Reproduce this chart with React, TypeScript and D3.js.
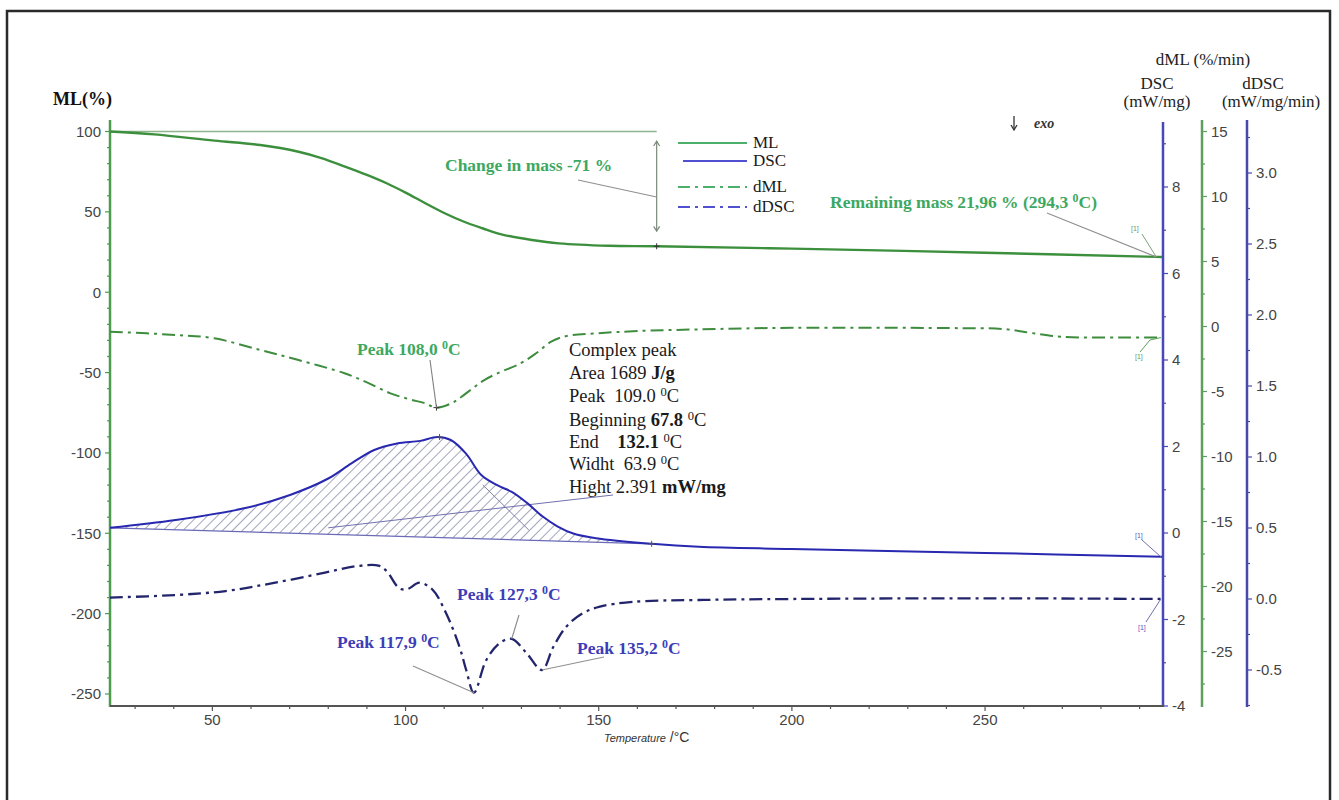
import React from "react";
import * as d3 from "d3";

// ML (%) vs temperature
const mlTemp = [23.5, 35, 50.5, 62.4, 72.3, 78, 85.2, 90, 95.1, 100, 105, 110, 115, 119.9, 124.8, 132.7, 139.7, 152.6, 165, 200, 250, 294.3, 295.8];
const mlValue = [100, 98.2, 94.3, 91.6, 87.4, 83.6, 77.4, 73, 67.8, 62, 55.5, 49.3, 44, 39.8, 36, 32.5, 30.4, 28.9, 28.6, 27.1, 24.6, 21.96, 21.9];

// dML (%/min)
const dmlTemp = [23.5, 40.5, 50.5, 62.4, 72.3, 84.2, 90, 96.1, 101, 105, 108, 111.9, 114.5, 117.9, 120.5, 123.8, 129.8, 133.8, 137.7, 141.7, 149.6, 160, 176.2, 200, 240, 255, 262, 270, 285, 295.8];
const dmlValue = [-0.4, -0.65, -0.91, -1.81, -2.58, -3.6, -4.3, -5.14, -5.6, -5.9, -6.24, -5.9, -5.4, -4.63, -4.1, -3.6, -2.83, -2.06, -1.17, -0.73, -0.52, -0.35, -0.22, -0.1, -0.12, -0.2, -0.5, -0.8, -0.85, -0.85];

// DSC (mW/mg)
const dscTemp = [23.5, 40.5, 58.2, 70.1, 80, 86, 91.9, 97.8, 103.8, 108.2, 111.7, 115.6, 119.6, 123.6, 127.5, 131.5, 135.5, 139.4, 143.4, 149.3, 163.7, 175.9, 200, 250, 295.8];
const dscValue = [0.12, 0.3, 0.57, 0.88, 1.26, 1.61, 1.92, 2.07, 2.13, 2.22, 2.15, 1.84, 1.34, 1.11, 0.95, 0.69, 0.38, 0.15, -0.01, -0.12, -0.25, -0.32, -0.37, -0.46, -0.55];

// dDSC (mW/mg/min)
const ddscTemp = [23.5, 40.5, 53.4, 65.3, 78.2, 87, 93, 95, 98.4, 100.5, 103.6, 107, 110.5, 114, 115.7, 117.7, 120.9, 124.4, 127.5, 131.3, 135.3, 138.2, 141.6, 145.9, 150.3, 158.8, 176, 200, 250, 295.8];
const ddscValue = [0.01, 0.028, 0.056, 0.11, 0.18, 0.23, 0.235, 0.2, 0.075, 0.07, 0.115, 0.065, -0.1, -0.34, -0.5, -0.66, -0.43, -0.31, -0.28, -0.38, -0.5, -0.34, -0.195, -0.1, -0.054, -0.02, -0.007, 0.0, 0.005, 0.0];

// integration baseline of the complex peak (temperature, DSC)
const baseTemp = [23.5, 163.7];
const baseValue = [0.12, -0.25];

const xLabels = [50, 100, 150, 200, 250];

const SERIF = "'Liberation Serif', 'Times New Roman', serif";
const SANS = "'Liberation Sans', Arial, sans-serif";
const GREEN_TXT = "#3da861";
const BLUE_TXT = "#3d3db8";
const TICK_TXT = "#444";

const zip = (a: number[], b: number[]) => a.map((t, i) => [t, b[i]] as [number, number]);

const Deg = ({ dy = 7 }: { dy?: number }) => (
  <>
    <tspan dy={-dy} fontSize="0.68em">0</tspan>
    <tspan dy={dy}>C</tspan>
  </>
);

type AxisProps = {
  scale: d3.ScaleLinear<number, number>;
  x: number;
  y0: number;
  y1: number;
  ticks: number[];
  major: (v: number) => boolean;
  fmt: (v: number) => string;
  side: "left" | "right";
  color: string;
};

const VAxis = ({ scale, x, y0, y1, ticks, major, fmt, side, color }: AxisProps) => {
  const s = side === "left" ? -1 : 1;
  return (
    <g>
      <line x1={x} x2={x} y1={y0} y2={y1} stroke={color} strokeWidth={2.5} />
      {ticks.map((v, i) => {
        const y = scale(v);
        const m = major(v);
        return (
          <g key={i}>
            <line x1={x} x2={x + s * (m ? 5 : 3)} y1={y} y2={y} stroke={color} strokeWidth={1.2} />
            {m && (
              <text
                x={x + s * 9}
                y={y}
                dy="0.36em"
                textAnchor={side === "left" ? "end" : "start"}
                fontFamily={SANS}
                fontSize={15}
                fill={TICK_TXT}
              >
                {fmt(v)}
              </text>
            )}
          </g>
        );
      })}
    </g>
  );
};

const Cross = ({ cx, cy, color }: { cx: number; cy: number; color: string }) => (
  <g stroke={color} strokeWidth={1}>
    <line x1={cx - 3} x2={cx + 3} y1={cy} y2={cy} />
    <line x1={cx} x2={cx} y1={cy - 3} y2={cy + 3} />
  </g>
);

export default function App() {
  const x = d3.scaleLinear().domain([23.5, 295.8]).range([110, 1162]);
  const yML = d3.scaleLinear().domain([100, -250]).range([131.5, 694]);
  const yDSC = d3.scaleLinear().domain([0, -4]).range([533, 706]);
  const ydML = d3.scaleLinear().domain([0, -25]).range([326.5, 651.5]);
  const ydDSC = d3.scaleLinear().domain([0, -0.5]).range([599, 670]);

  const mk = (ys: d3.ScaleLinear<number, number>) =>
    d3
      .line<[number, number]>()
      .x((d) => x(d[0]))
      .y((d) => ys(d[1]))
      .curve(d3.curveCatmullRom.alpha(0.5));

  const mlPts = zip(mlTemp, mlValue);
  const dmlPts = zip(dmlTemp, dmlValue);
  const dscPts = zip(dscTemp, dscValue);
  const ddscPts = zip(ddscTemp, ddscValue);

  const baseAt = d3.scaleLinear().domain(baseTemp).range(baseValue);
  const hatchPts = dscPts.filter((d) => d[0] <= baseTemp[1]);
  const area = d3
    .area<[number, number]>()
    .x((d) => x(d[0]))
    .y0((d) => yDSC(baseAt(d[0])))
    .y1((d) => yDSC(d[1]))
    .curve(d3.curveCatmullRom.alpha(0.5));

  const xTicks = d3.range(30, 300, 10);

  const legend = [
    { name: "ML", color: "#4caf6a", dash: "none", y: 143, x0: 678 },
    { name: "DSC", color: "#5050d0", dash: "none", y: 161, x0: 683 },
    { name: "dML", color: "#4caf6a", dash: "12 5 3 5", y: 187, x0: 678 },
    { name: "dDSC", color: "#5050d0", dash: "12 5 3 5", y: 207, x0: 678 },
  ];

  const peakLabels = [
    { t: "117,9", x: 337, y: 648, lx1: 413, ly1: 666, lx2: x(117.7), ly2: ydDSC(-0.66) },
    { t: "127,3", x: 457, y: 600, lx1: 519, ly1: 615, lx2: x(127.5), ly2: ydDSC(-0.28) },
    { t: "135,2", x: 577, y: 654, lx1: 604, ly1: 657, lx2: x(135.3), ly2: ydDSC(-0.5) },
  ];

  return (
    <svg
      width={1339}
      height={800}
      style={{ position: "absolute", left: 0, top: 0, background: "#fff" }}
    >
      <defs>
        <pattern id="hatch" width={7} height={7} patternUnits="userSpaceOnUse" patternTransform="rotate(45)">
          <line x1={0} y1={0} x2={0} y2={7} stroke="#4a4e78" strokeWidth={1} />
        </pattern>
      </defs>
      <rect x={0} y={0} width={1339} height={800} fill="#fff" />
      <rect x={7} y={11} width={1323} height={800} fill="none" stroke="#2a2a2a" strokeWidth={2.5} />

      {/* axes */}
      <VAxis
        scale={yML}
        x={110}
        y0={120}
        y1={707}
        ticks={d3.range(-250, 101, 10)}
        major={(v) => v % 50 === 0}
        fmt={(v) => String(v)}
        side="left"
        color="#4e9a4e"
      />
      <VAxis
        scale={yDSC}
        x={1163}
        y0={122}
        y1={707}
        ticks={d3.range(-4, 10, 1)}
        major={(v) => v % 2 === 0}
        fmt={(v) => String(v)}
        side="right"
        color="#4848b8"
      />
      <VAxis
        scale={ydML}
        x={1202}
        y0={120}
        y1={707}
        ticks={d3.range(-11, 7).map((i) => i * 2.5)}
        major={(v) => v % 5 === 0}
        fmt={(v) => String(v)}
        side="right"
        color="#5e9e5e"
      />
      <VAxis
        scale={ydDSC}
        x={1247}
        y0={120}
        y1={707}
        ticks={d3.range(-3, 14).map((i) => i * 0.25)}
        major={(v) => Math.abs(v * 2 - Math.round(v * 2)) < 1e-9}
        fmt={(v) => v.toFixed(1)}
        side="right"
        color="#4848a8"
      />

      {/* x axis */}
      <line x1={110} x2={1163} y1={706} y2={706} stroke="#555" strokeWidth={2} />
      {xTicks.map((t) => (
        <line key={t} x1={x(t)} x2={x(t)} y1={706} y2={t % 50 === 0 ? 711 : 709} stroke="#555" strokeWidth={1.2} />
      ))}
      {xLabels.map((t) => (
        <text key={t} x={x(t)} y={725} textAnchor="middle" fontFamily={SANS} fontSize={15} fill={TICK_TXT}>
          {t}
        </text>
      ))}
      <text x={604} y={742} fontFamily={SANS} fill="#333">
        <tspan fontSize={11} fontStyle="italic">Temperature</tspan>
        <tspan fontSize={14}> /°C</tspan>
      </text>

      {/* axis titles */}
      <text x={53} y={105} fontFamily={SERIF} fontWeight="bold" fontSize={18} fill="#111">ML(%)</text>
      <text x={1203} y={65} textAnchor="middle" fontFamily={SERIF} fontSize={17} fill="#222">dML (%/min)</text>
      <text x={1157} y={89} textAnchor="middle" fontFamily={SERIF} fontSize={17} fill="#222">DSC</text>
      <text x={1157} y={107} textAnchor="middle" fontFamily={SERIF} fontSize={17} fill="#222">(mW/mg)</text>
      <text x={1263} y={89} textAnchor="middle" fontFamily={SERIF} fontSize={17} fill="#222">dDSC</text>
      <text x={1271} y={107} textAnchor="middle" fontFamily={SERIF} fontSize={17} fill="#222">(mW/mg/min)</text>

      {/* exo marker */}
      <line x1={1014} y1={116} x2={1014} y2={129} stroke="#333" strokeWidth={1.3} />
      <path d="M1011,125 L1014,130 L1017,125" fill="none" stroke="#333" strokeWidth={1.3} />
      <text x={1034} y={128} fontFamily={SERIF} fontSize={14} fontStyle="italic" fontWeight="bold" fill="#333">exo</text>

      {/* ML reference line and change-in-mass arrow */}
      <line x1={x(23.5)} x2={x(165)} y1={yML(100)} y2={yML(100)} stroke="#8db58d" strokeWidth={1.5} />
      <line x1={x(165)} x2={x(165)} y1={yML(94)} y2={yML(38)} stroke="#7a8a7a" strokeWidth={1.2} />
      <path d={`M${x(165) - 3},${yML(91)} L${x(165)},${yML(94)} L${x(165) + 3},${yML(91)}`} fill="none" stroke="#7a8a7a" strokeWidth={1.2} />
      <path d={`M${x(165) - 3},${yML(41)} L${x(165)},${yML(38)} L${x(165) + 3},${yML(41)}`} fill="none" stroke="#7a8a7a" strokeWidth={1.2} />
      <line x1={578} y1={180} x2={x(165)} y2={197} stroke="#909090" strokeWidth={1.2} />
      <text x={445} y={171} fontFamily={SERIF} fontWeight="bold" fontSize={17.5} fill={GREEN_TXT}>Change in mass -71 %</text>

      {/* hatched peak area */}
      <path d={area(hatchPts) || ""} fill="url(#hatch)" stroke="none" />
      <line
        x1={x(baseTemp[0])}
        y1={yDSC(baseValue[0])}
        x2={x(baseTemp[1])}
        y2={yDSC(baseValue[1])}
        stroke="#6a6ab8"
        strokeWidth={1.2}
      />
      <line x1={x(120)} y1={yDSC(1.11)} x2={x(131.9)} y2={yDSC(0.07)} stroke="#8080a8" strokeWidth={1} />
      <line x1={613} y1={495} x2={x(80)} y2={yDSC(0.12)} stroke="#7070b0" strokeWidth={1} />

      {/* curves */}
      <path d={mk(yML)(mlPts) || ""} fill="none" stroke="#3c8f3c" strokeWidth={2.4} />
      <path d={mk(ydML)(dmlPts) || ""} fill="none" stroke="#3e8c3e" strokeWidth={2} strokeDasharray="13 5 3 5" />
      <path d={mk(yDSC)(dscPts) || ""} fill="none" stroke="#2828b0" strokeWidth={2} />
      <path d={mk(ydDSC)(ddscPts) || ""} fill="none" stroke="#23256c" strokeWidth={2.3} strokeDasharray="13 5 3 5" />

      <Cross cx={x(165)} cy={yML(28.6)} color="#333" />
      <Cross cx={x(108)} cy={ydML(-6.24)} color="#333" />
      <Cross cx={x(108.8)} cy={yDSC(2.22)} color="#555" />
      <Cross cx={x(163.7)} cy={yDSC(-0.25)} color="#555" />

      {/* remaining mass */}
      <text x={830} y={208} fontFamily={SERIF} fontWeight="bold" fontSize={17.5} fill={GREEN_TXT}>
        Remaining mass 21,96 % (294,3 <Deg dy={6} />)
      </text>
      <line x1={1047} y1={213} x2={x(294.3)} y2={yML(21.96)} stroke="#909090" strokeWidth={1.2} />
      <text x={1131} y={231} fontFamily={SANS} fontSize={7} fill="#6a9a6a">[1]</text>
      <line x1={1142} y1={234} x2={x(294.3)} y2={yML(21.96)} stroke="#7aa07a" strokeWidth={1} />

      {/* end markers on other curves */}
      <text x={1135} y={359} fontFamily={SANS} fontSize={7} fill="#5aa05a">[1]</text>
      <path d={`M1140,352 L1150,340 L${x(295.5)},${ydML(-0.85)}`} fill="none" stroke="#5aa05a" strokeWidth={1} />
      <text x={1135} y={538} fontFamily={SANS} fontSize={7} fill="#5a5ac0">[1]</text>
      <line x1={1142} y1={540} x2={x(295.5)} y2={yDSC(-0.55)} stroke="#7070b0" strokeWidth={1} />
      <text x={1138} y={630} fontFamily={SANS} fontSize={7} fill="#5a5ac0">[1]</text>
      <line x1={1146} y1={622} x2={x(295.5)} y2={ydDSC(0.0)} stroke="#7070b0" strokeWidth={1} />

      {/* peak 108 */}
      <text x={357} y={355} fontFamily={SERIF} fontWeight="bold" fontSize={17.5} fill={GREEN_TXT}>
        Peak 108,0 <Deg dy={6} />
      </text>
      <line x1={430} y1={360} x2={x(108)} y2={ydML(-6.24)} stroke="#808080" strokeWidth={1.1} />

      {/* complex peak block */}
      <g fontFamily={SERIF} fontSize={18.5} fill="#1a1a1a">
        <text x={569} y={356}>Complex peak</text>
        <text x={569} y={379}>Area 1689 <tspan fontWeight="bold">J/g</tspan></text>
        <text x={569} y={402}>Peak&#160; 109.0 <Deg dy={6} /></text>
        <text x={569} y={426}>Beginning <tspan fontWeight="bold">67.8</tspan> <Deg dy={6} /></text>
        <text x={569} y={448}>End&#160;&#160;&#160; <tspan fontWeight="bold">132.1</tspan> <Deg dy={6} /></text>
        <text x={569} y={470}>Widht&#160; 63.9 <Deg dy={6} /></text>
        <text x={569} y={493}>Hight 2.391 <tspan fontWeight="bold">mW/mg</tspan></text>
      </g>

      {/* dDSC peaks */}
      {peakLabels.map((p) => (
        <g key={p.t}>
          <line x1={p.lx1} y1={p.ly1} x2={p.lx2} y2={p.ly2} stroke="#909090" strokeWidth={1.2} />
          <text x={p.x} y={p.y} fontFamily={SERIF} fontWeight="bold" fontSize={17.5} fill={BLUE_TXT}>
            Peak {p.t} <Deg dy={6} />
          </text>
        </g>
      ))}

      {/* legend */}
      {legend.map((l) => (
        <g key={l.name}>
          <line x1={l.x0} x2={747} y1={l.y} y2={l.y} stroke={l.color} strokeWidth={1.8} strokeDasharray={l.dash} />
          <text x={753} y={l.y + 4.5} fontFamily={SERIF} fontSize={17} fill="#1a1a1a">{l.name}</text>
        </g>
      ))}
    </svg>
  );
}
